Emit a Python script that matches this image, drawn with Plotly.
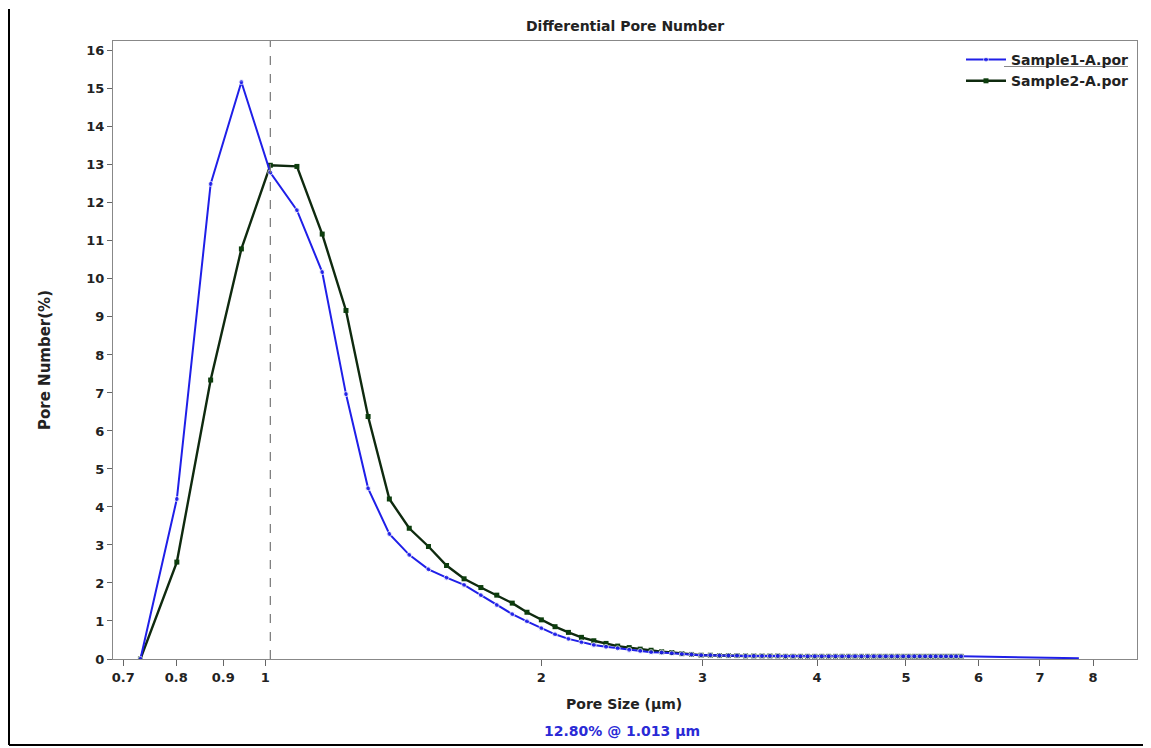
import plotly.graph_objects as go

# Pore sizes (um) shared by both samples
pore_size = [0.731, 0.801, 0.872, 0.942, 1.013, 1.083, 1.154, 1.225, 1.295, 1.366,
             1.436, 1.507, 1.577, 1.648, 1.719, 1.789, 1.860, 1.930, 2.001, 2.071,
             2.142, 2.213, 2.283, 2.354, 2.424, 2.495, 2.565, 2.636, 2.707, 2.777,
             2.848, 2.918, 2.989, 3.059, 3.130, 3.201, 3.271, 3.342, 3.412, 3.483,
             3.553, 3.624, 3.695, 3.765, 3.836, 3.906, 3.977, 4.047, 4.118, 4.189,
             4.259, 4.330, 4.400, 4.471, 4.541, 4.612, 4.683, 4.753, 4.824, 4.894,
             4.965, 5.035, 5.106, 5.177, 5.247, 5.318, 5.388, 5.459, 5.529, 5.600,
             5.671, 5.742]

sample1 = [0.0, 4.21, 12.50, 15.18, 12.80, 11.81, 10.18, 6.97, 4.49, 3.29,
           2.74, 2.36, 2.14, 1.95, 1.68, 1.42, 1.18, 0.99, 0.81, 0.65,
           0.53, 0.44, 0.37, 0.32, 0.28, 0.24, 0.21, 0.18, 0.17, 0.15,
           0.13, 0.12, 0.10, 0.10, 0.09, 0.09, 0.09, 0.08, 0.08, 0.08,
           0.08, 0.08, 0.07, 0.07, 0.07, 0.07, 0.07, 0.07, 0.07, 0.07,
           0.07, 0.07, 0.07, 0.07, 0.07, 0.07, 0.07, 0.07, 0.07, 0.07,
           0.07, 0.07, 0.07, 0.07, 0.07, 0.07, 0.07, 0.07, 0.07, 0.07,
           0.07, 0.07]
sample1_end_size = [7.72]
sample1_end_value = [0.02]

sample2 = [0.0, 2.55, 7.34, 10.79, 12.99, 12.96, 11.18, 9.17, 6.38, 4.21,
           3.44, 2.96, 2.46, 2.11, 1.88, 1.68, 1.47, 1.23, 1.03, 0.85,
           0.70, 0.57, 0.48, 0.41, 0.34, 0.30, 0.26, 0.23, 0.19, 0.17,
           0.14, 0.12, 0.10, 0.10, 0.09, 0.09, 0.09, 0.08, 0.08, 0.08,
           0.08, 0.08, 0.07, 0.07, 0.07, 0.07, 0.07, 0.07, 0.07, 0.07,
           0.07, 0.07, 0.07, 0.07, 0.07, 0.07, 0.07, 0.07, 0.07, 0.07,
           0.07, 0.07, 0.07, 0.07, 0.07, 0.07, 0.07, 0.07, 0.07, 0.07,
           0.07, 0.07]

x_tick_vals = [0.7, 0.8, 0.9, 1, 2, 3, 4, 5, 6, 7, 8]
x_tick_text = ["0.7", "0.8", "0.9", "1", "2", "3", "4", "5", "6", "7", "8"]
y_tick_vals = list(range(0, 17))

peak_size = 1.013
peak_label = "12.80% @ 1.013 μm"

BLUE = "#1f1fe8"
GREEN_LINE = "#0f2a0f"
GREEN_MARK = "#0d3d0d"
FONT = "DejaVu Sans, Liberation Sans, Arial, sans-serif"
TXT = "#222222"

fig = go.Figure()

fig.add_trace(go.Scatter(
    x=pore_size, y=sample2, name="Sample2-A.por", mode="lines+markers",
    line=dict(color=GREEN_LINE, width=2.4),
    marker=dict(symbol="square", size=5, color=GREEN_MARK),
    legendrank=2,
))
fig.add_trace(go.Scatter(
    x=pore_size + sample1_end_size, y=sample1 + sample1_end_value,
    name="Sample1-A.por", mode="lines+markers",
    line=dict(color=BLUE, width=2),
    marker=dict(symbol="circle", size=[5] * len(pore_size) + [0], color=BLUE),
    legendrank=1,
))

fig.add_vline(x=peak_size, line=dict(color="#777777", width=1.2, dash="dash"))

# page-pixel -> paper coordinate helpers (plot area: x 113..1137, y 41..659)
def px_x(p):
    return (p - 113) / 1024

def px_y(p):
    return (659 - p) / 618

FRAME = dict(color="black", width=2)
shapes = [
    dict(type="line", xref="paper", yref="paper",
         x0=px_x(9), x1=px_x(1150), y0=px_y(14), y1=px_y(14), line=FRAME),
    dict(type="line", xref="paper", yref="paper",
         x0=px_x(9), x1=px_x(9), y0=px_y(9), y1=px_y(745), line=FRAME),
    dict(type="line", xref="paper", yref="paper",
         x0=px_x(9), x1=px_x(1150), y0=px_y(745), y1=px_y(745), line=FRAME),
    dict(type="line", xref="paper", yref="paper",
         x0=px_x(1004), x1=px_x(1128), y0=px_y(66.5), y1=px_y(66.5),
         line=dict(color="#888888", width=1.2)),
]

annotations = [
    dict(text="<b>Differential Pore Number</b>", xref="paper", yref="paper",
         x=0.5, y=px_y(26), xanchor="center", yanchor="middle", showarrow=False,
         font=dict(family=FONT, size=14, color=TXT)),
    dict(text="<b>Pore Size (μm)</b>", xref="paper", yref="paper",
         x=px_x(624), y=px_y(704), xanchor="center", yanchor="middle", showarrow=False,
         font=dict(family=FONT, size=14, color=TXT)),
    dict(text="<b>" + peak_label + "</b>", xref="paper", yref="paper",
         x=px_x(622), y=px_y(731), xanchor="center", yanchor="middle", showarrow=False,
         font=dict(family=FONT, size=14, color="#2a2ad6")),
    dict(text="<b>Pore Number(%)</b>", xref="paper", yref="paper",
         x=px_x(45), y=px_y(360), xanchor="center", yanchor="middle", showarrow=False,
         textangle=-90, font=dict(family=FONT, size=15, color=TXT)),
]

# the page body has an 8px margin, so the figure is shifted left/up by 8px
fig.update_layout(
    width=1151, height=748,
    margin=dict(l=105, r=22, t=33, b=97),
    paper_bgcolor="white", plot_bgcolor="white",
    showlegend=True,
    legend=dict(x=px_x(1134), y=px_y(44), xanchor="right", yanchor="top",
                bgcolor="rgba(0,0,0,0)", borderwidth=0,
                font=dict(family=FONT, size=14, color=TXT, weight="bold"),
                tracegroupgap=0, itemwidth=40),
    shapes=shapes,
    annotations=annotations,
    font=dict(family=FONT),
)

fig.update_xaxes(
    type="log", range=[-0.166, 0.951],
    tickvals=x_tick_vals, ticktext=x_tick_text,
    ticks="outside", ticklen=6, tickcolor="#666666", tickwidth=1,
    tickfont=dict(family=FONT, size=13, color=TXT, weight="bold"),
    showline=True, linecolor="#888888", linewidth=1, mirror=True,
    showgrid=False, zeroline=False,
)
fig.update_yaxes(
    range=[0, 16.26], tickvals=y_tick_vals,
    ticks="outside", ticklen=5, tickcolor="#666666", tickwidth=1,
    tickfont=dict(family=FONT, size=13, color=TXT, weight="bold"),
    showline=True, linecolor="#888888", linewidth=1, mirror=True,
    showgrid=False, zeroline=False,
)

fig.write_html("out.html")
